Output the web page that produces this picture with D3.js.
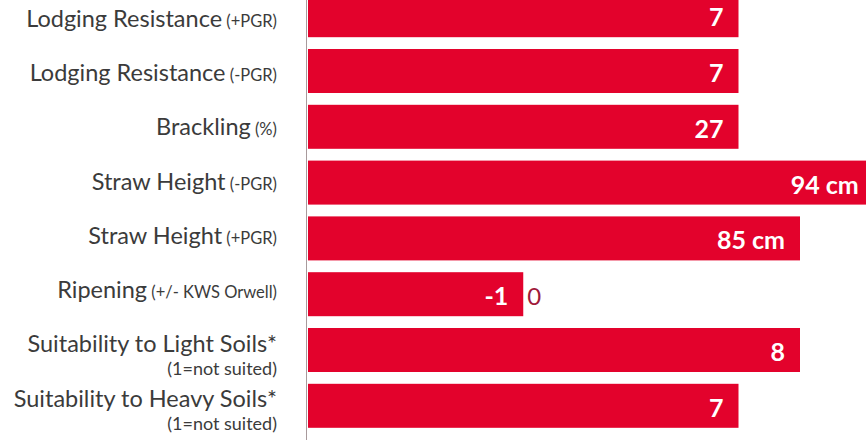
<!DOCTYPE html>
<html>
<head>
<meta charset="utf-8">
<script src="https://cdn.jsdelivr.net/npm/d3@7"></script>
<style>
  body { margin: 0; background: #fff; }
  svg { display: block; font-family: Lato, "Open Sans", sans-serif; }
</style>
</head>
<body>
<div id="chart"></div>
<script>
// Row labels (main text, small note after it, and second line)
const traits = [
  "Lodging Resistance",
  "Lodging Resistance",
  "Brackling",
  "Straw Height",
  "Straw Height",
  "Ripening",
  "Suitability to Light Soils*",
  "Suitability to Heavy Soils*"
];
const traitNotes = ["(+PGR)", "(-PGR)", "(%)", "(-PGR)", "(+PGR)", "(+/- KWS Orwell)", "", ""];
const traitSubs = ["", "", "", "", "", "", "(1=not suited)", "(1=not suited)"];

// Bar length on the 1-9 rating scale, and the text printed in the bar
const scores = [7, 7, 7, 9.2, 8, 3.5, 8, 7];
const valueLabels = ["7", "7", "27", "94 cm", "85 cm", "-1", "8", "7"];
const outsideLabels = ["", "", "", "", "", "0", "", ""];

const width = 866;
const height = 440;
const rows = traits.map((t, i) => i);

const svg = d3.select("#chart")
  .append("svg")
  .attr("width", width)
  .attr("height", height);

// Scales
const x = d3.scaleLinear()
  .domain([0, 9])
  .range([308, 861.5]);

const y = d3.scaleBand()
  .domain(rows)
  .range([-12.7, 433.7])
  .paddingInner(0.2115)
  .paddingOuter(0.1057);

// labels sit on a slightly tighter spacing than the bars
const yLabel = d3.scalePoint()
  .domain(rows)
  .range([18.4, 398.1]);

const red = "#e3022c";

// Bars
svg.selectAll(".bar")
  .data(rows)
  .enter()
  .append("rect")
  .attr("class", "bar")
  .attr("x", x(0))
  .attr("y", (i) => y(i))
  .attr("width", (i) => x(scores[i]) - x(0))
  .attr("height", y.bandwidth())
  .style("fill", red);

// Values inside the bars
svg.selectAll(".value")
  .data(rows)
  .enter()
  .append("text")
  .attr("class", "value")
  .attr("x", (i) => x(scores[i]) - 15)
  .attr("y", (i) => y(i) + y.bandwidth() / 2 + 11)
  .attr("text-anchor", "end")
  .style("fill", "#fff")
  .style("font-weight", "700")
  .style("font-size", "25px")
  .text((i) => valueLabels[i]);

// Value next to the bar end
svg.selectAll(".outside")
  .data(rows.filter((i) => outsideLabels[i] !== ""))
  .enter()
  .append("text")
  .attr("class", "outside")
  .attr("x", (i) => x(scores[i]) + 4)
  .attr("y", (i) => y(i) + y.bandwidth() / 2 + 11)
  .style("fill", "#a0193a")
  .style("font-size", "24px")
  .text((i) => outsideLabels[i]);

// Row labels
const labels = svg.selectAll(".label")
  .data(rows)
  .enter()
  .append("text")
  .attr("class", "label")
  .attr("x", 277)
  .attr("y", (i) => yLabel(i) + 8.5)
  .attr("text-anchor", "end")
  .style("fill", "#3b3b3b")
  .style("font-size", "23.5px");

labels.append("tspan")
  .text((i) => traits[i]);

labels.append("tspan")
  .style("font-size", "16.5px")
  .text((i) => traitNotes[i] ? " " + traitNotes[i] : "");

svg.selectAll(".sublabel")
  .data(rows.filter((i) => traitSubs[i] !== ""))
  .enter()
  .append("text")
  .attr("class", "sublabel")
  .attr("x", 277)
  .attr("y", (i) => yLabel(i) + 8.5 + 23)
  .attr("text-anchor", "end")
  .style("fill", "#3b3b3b")
  .style("font-size", "18px")
  .text((i) => traitSubs[i]);

// Axis line (no ticks)
svg.append("g")
  .attr("transform", "translate(306.5,0)")
  .call(d3.axisLeft(y).tickSize(0).tickFormat(""))
  .call((g) => g.select(".domain")
    .attr("d", "M0,0V" + height)
    .style("stroke", "#a89a9c"));
</script>
</body>
</html>
